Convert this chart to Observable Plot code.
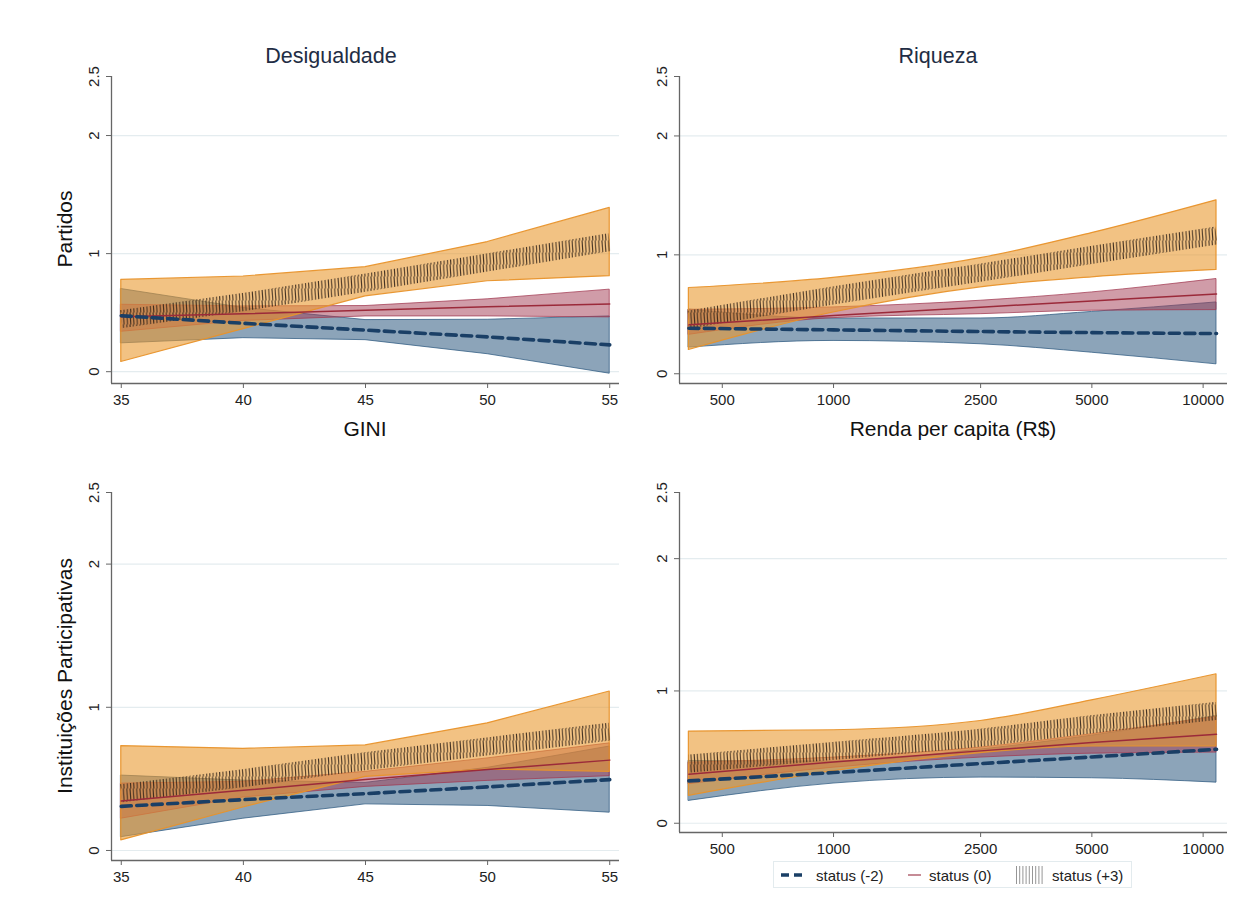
<!DOCTYPE html>
<html><head><meta charset="utf-8">
<script src="https://cdn.jsdelivr.net/npm/d3@7"></script>
<script src="https://cdn.jsdelivr.net/npm/@observablehq/plot@0.6"></script>
<style>
body{margin:0;background:#fff;font-family:"Liberation Sans",Arial,sans-serif;}
#root{position:relative;width:1251px;height:917px;overflow:hidden;background:#fff;}
.abs{position:absolute;white-space:nowrap;line-height:1.15;}
.title{font-size:21.5px;color:#1f2d44;transform:translate(-50%,-50%);}
.xlab{font-size:21px;color:#111;transform:translate(-50%,-50%);}
.ylab{font-size:21px;color:#111;transform:translate(-50%,-50%) rotate(-90deg);}
#legend{position:absolute;left:773px;top:861px;width:359px;height:27px;border:1px solid #e3ebee;box-sizing:border-box;font-size:15px;color:#222;}
#legend span{position:absolute;top:50%;transform:translateY(-50%);white-space:nowrap;line-height:1;}
#legend svg{display:block;}
</style></head>
<body>
<svg width="0" height="0" style="position:absolute">
  <defs>
    <pattern id="hatch" patternUnits="userSpaceOnUse" width="3.3" height="12">
      <line x1="0.8" y1="0" x2="1.6" y2="12" stroke="#35261a" stroke-width="1" stroke-opacity="0.95"/>
    </pattern>
  </defs>
</svg>
<div id="root">
  <div class="abs title" style="left:331px;top:56px">Desigualdade</div>
  <div class="abs title" style="left:938px;top:56px">Riqueza</div>
  <div class="abs xlab" style="left:365px;top:429px">GINI</div>
  <div class="abs xlab" style="left:953px;top:429px">Renda per capita (R$)</div>
  <div class="abs ylab" style="left:65px;top:229px">Partidos</div>
  <div class="abs ylab" style="left:65px;top:676px">Instituições Participativas</div>
  <div id="legend">
    <span style="left:6px"><svg width="24" height="10"><line x1="1" y1="5" x2="23" y2="5" stroke="#1a3f66" stroke-width="3.5" stroke-dasharray="8,5"/></svg></span>
    <span style="left:42px">status (-2)</span>
    <span style="left:134px"><svg width="13" height="10"><line x1="0" y1="5" x2="13" y2="5" stroke="#b8707c" stroke-width="1.6"/></svg></span>
    <span style="left:155px">status (0)</span>
    <span style="left:242px"><svg width="28" height="20" id="leghatch"></svg></span>
    <span style="left:278px">status (+3)</span>
  </div>
</div>
<script>
// ---- data ----
const giniX = [35, 40, 45, 50, 55];
const rendaX = [406, 1000, 2500, 5000, 10870];
const giniTicks = [35, 40, 45, 50, 55];
const rendaTicks = [500, 1000, 2500, 5000, 10000];
const yTicks = [0, 1, 2, 2.5];
const gridY = [0, 1, 2];

// Partidos x GINI
const pgM2Lo = [0.24, 0.284, 0.267, 0.148, -0.017];
const pgM2Hi = [0.70, 0.54, 0.437, 0.44, 0.468];
const pgM2M  = [0.474, 0.41, 0.352, 0.295, 0.227];
const pgS0Lo = [0.338, 0.43, 0.468, 0.468, 0.46];
const pgS0Hi = [0.567, 0.553, 0.556, 0.613, 0.695];
const pgS0M  = [0.465, 0.49, 0.52, 0.55, 0.573];
const pgP3Lo = [0.082, 0.36, 0.638, 0.766, 0.809];
const pgP3Hi = [0.777, 0.806, 0.885, 1.098, 1.387];
const pgP3M  = [0.445, 0.59, 0.755, 0.925, 1.098];

// Partidos x Renda
const prM2Lo = [0.22, 0.276, 0.248, 0.177, 0.079];
const prM2Hi = [0.54, 0.465, 0.465, 0.52, 0.6];
const prM2M  = [0.383, 0.369, 0.355, 0.346, 0.338];
const prS0Lo = [0.327, 0.468, 0.501, 0.53, 0.535];
const prS0Hi = [0.538, 0.558, 0.614, 0.684, 0.797];
const prS0M  = [0.411, 0.49, 0.56, 0.612, 0.67];
const prP3Lo = [0.2, 0.515, 0.727, 0.811, 0.873];
const prP3Hi = [0.721, 0.806, 0.972, 1.183, 1.459];
const prP3M  = [0.455, 0.66, 0.85, 1.0, 1.163];

// Instituições Participativas x GINI
const igM2Lo = [0.093, 0.222, 0.322, 0.311, 0.264];
const igM2Hi = [0.523, 0.488, 0.472, 0.577, 0.726];
const igM2M  = [0.308, 0.355, 0.397, 0.444, 0.495];
const igS0Lo = [0.222, 0.37, 0.444, 0.486, 0.519];
const igS0Hi = [0.467, 0.479, 0.549, 0.643, 0.748];
const igS0M  = [0.346, 0.42, 0.495, 0.565, 0.631];
const igP3Lo = [0.07, 0.30, 0.514, 0.565, 0.549];
const igP3Hi = [0.729, 0.71, 0.734, 0.888, 1.11];
const igP3M  = [0.40, 0.505, 0.624, 0.727, 0.83];

// Instituições Participativas x Renda
const irM2Lo = [0.169, 0.30, 0.345, 0.34, 0.307];
const irM2Hi = [0.471, 0.466, 0.557, 0.662, 0.811];
const irM2M  = [0.32, 0.383, 0.451, 0.501, 0.559];
const irS0Lo = [0.295, 0.42, 0.496, 0.526, 0.534];
const irS0Hi = [0.458, 0.496, 0.572, 0.673, 0.804];
const irS0M  = [0.37, 0.463, 0.547, 0.61, 0.673];
const irP3Lo = [0.207, 0.393, 0.53, 0.58, 0.58];
const irP3Hi = [0.693, 0.703, 0.773, 0.929, 1.126];
const irP3M  = [0.451, 0.547, 0.647, 0.748, 0.849];

// ---- drawing ----
const C = {
  blue: "#2e5a80", blueLine: "#1a3f66",
  red: "#a23a52", redLine: "#9b2a3a",
  orange: "#ea9a30", orangeLine: "#e8922a",
  axis: "#666", grid: "#e4ecef"
};

function rows(xs, lo, hi, m) { return xs.map((x, i) => ({x, lo: lo[i], hi: hi[i], m: m[i]})); }

function panel(cfg) {
  const A = rows(cfg.xs, ...cfg.m2), B = rows(cfg.xs, ...cfg.s0), P = rows(cfg.xs, ...cfg.p3);
  const curve = cfg.curve;
  const x0 = cfg.xDomain[0], y0 = cfg.yDomain[0];
  const plot = Plot.plot({
    width: cfg.width, height: cfg.height,
    marginLeft: cfg.ml, marginRight: cfg.mr, marginTop: cfg.mt, marginBottom: cfg.mb,
    x: {type: cfg.xType, domain: cfg.xDomain},
    y: {type: "linear", domain: cfg.yDomain},
    style: {fontFamily: "'Liberation Sans', Arial, sans-serif", fontSize: "15px", color: "#222", background: "transparent", overflow: "visible"},
    marks: [
      Plot.ruleY(gridY, {stroke: C.grid, strokeWidth: 1.2}),
      Plot.areaY(A, {x: "x", y1: "lo", y2: "hi", curve, fill: C.blue, fillOpacity: 0.55, stroke: C.blue, strokeOpacity: 0.75, strokeWidth: 1}),
      Plot.areaY(B, {x: "x", y1: "lo", y2: "hi", curve, fill: C.red, fillOpacity: 0.5, stroke: C.red, strokeOpacity: 0.75, strokeWidth: 1}),
      Plot.areaY(P, {x: "x", y1: "lo", y2: "hi", curve, fill: C.orange, fillOpacity: 0.6, stroke: C.orangeLine, strokeOpacity: 0.95, strokeWidth: 1.2}),
      Plot.line(P, {x: "x", y: "m", curve, stroke: "url(#hatch)", strokeWidth: 18, strokeLinecap: "butt"}),
      Plot.line(B, {x: "x", y: "m", curve, stroke: C.redLine, strokeWidth: 1.5}),
      Plot.line(A, {x: "x", y: "m", curve, stroke: C.blueLine, strokeWidth: 3.6, strokeDasharray: "10,5.5"}),
      Plot.ruleX([x0], {y1: y0, y2: 2.5, stroke: C.axis, strokeWidth: 1.3}),
      Plot.ruleY([y0], {stroke: C.axis, strokeWidth: 1.3}),
      Plot.axisY({ticks: yTicks, tickSize: 5, stroke: C.axis, tickFormat: () => "", label: null}),
      Plot.text(yTicks, {x: x0, y: d => d, text: d => String(d), rotate: -90, dx: -17, fontSize: 15, fill: "#222"}),
      Plot.axisX({ticks: cfg.xTicks, tickSize: 5, tickPadding: 6, stroke: C.axis, tickFormat: d => String(d), label: null, fontSize: 15})
    ]
  });
  plot.style.position = "absolute";
  plot.style.left = cfg.left + "px";
  plot.style.top = cfg.top + "px";
  document.getElementById("root").appendChild(plot);
}

panel({left: 0, top: 0, width: 630, height: 440, ml: 111, mr: 11, mt: 76, mb: 57,
  xs: giniX, xType: "linear", xDomain: [34.6, 55.4], xTicks: giniTicks, yDomain: [-0.1, 2.5], curve: "linear",
  m2: [pgM2Lo, pgM2Hi, pgM2M], s0: [pgS0Lo, pgS0Hi, pgS0M], p3: [pgP3Lo, pgP3Hi, pgP3M]});
panel({left: 630, top: 0, width: 621, height: 440, ml: 49, mr: 24, mt: 76, mb: 57,
  xs: rendaX, xType: "log", xDomain: [383, 11640], xTicks: rendaTicks, yDomain: [-0.082, 2.5], curve: "monotone-x",
  m2: [prM2Lo, prM2Hi, prM2M], s0: [prS0Lo, prS0Hi, prS0M], p3: [prP3Lo, prP3Hi, prP3M]});
panel({left: 0, top: 440, width: 630, height: 477, ml: 111, mr: 11, mt: 52, mb: 57,
  xs: giniX, xType: "linear", xDomain: [34.6, 55.4], xTicks: giniTicks, yDomain: [-0.07, 2.5], curve: "linear",
  m2: [igM2Lo, igM2Hi, igM2M], s0: [igS0Lo, igS0Hi, igS0M], p3: [igP3Lo, igP3Hi, igP3M]});
panel({left: 630, top: 440, width: 621, height: 477, ml: 49, mr: 24, mt: 52, mb: 85,
  xs: rendaX, xType: "log", xDomain: [383, 11640], xTicks: rendaTicks, yDomain: [-0.07, 2.5], curve: "monotone-x",
  m2: [irM2Lo, irM2Hi, irM2M], s0: [irS0Lo, irS0Hi, irS0M], p3: [irP3Lo, irP3Hi, irP3M]});

// legend hatch sample
const lh = d3.select("#leghatch");
d3.range(0, 27, 3.2).forEach(v => lh.append("line").attr("x1", v + 0.5).attr("x2", v + 0.5).attr("y1", 1).attr("y2", 19).attr("stroke", "#8a8a8a").attr("stroke-width", 0.9));
document.getElementById("root").appendChild(document.getElementById("legend"));
</script>
</body></html>
